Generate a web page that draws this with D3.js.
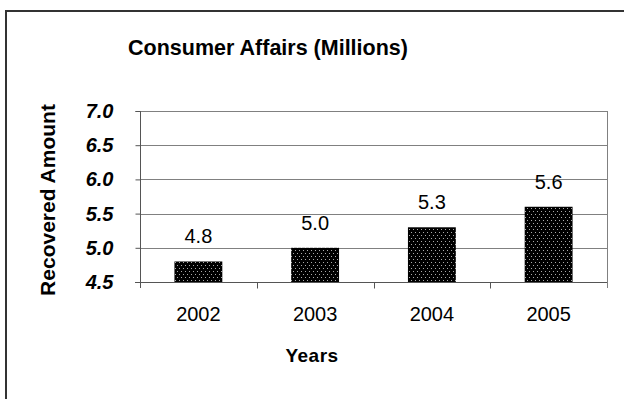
<!DOCTYPE html>
<html><head><meta charset="utf-8">
<script src="https://cdn.jsdelivr.net/npm/d3@7"></script>
<style>body{margin:0;background:#fff}svg{display:block}text{font-family:"Liberation Sans",Arial,sans-serif}</style>
</head><body><svg id="c" width="624" height="399"></svg>
<script>
const categories = ["2002","2003","2004","2005"];
const values = [4.8, 5.0, 5.3, 5.6];
const valueLabels = ["4.8","5.0","5.3","5.6"];
const yTicks = [4.5, 5.0, 5.5, 6.0, 6.5, 7.0];

const svg = d3.select("#c");
const m = {left:140, right:607, top:111, bottom:282};

// outer frame
svg.append("path").attr("d","M6,399 L6,11 L624,11").attr("fill","none").attr("stroke","#333").attr("stroke-width",2);

const defs = svg.append("defs");
const pat = defs.append("pattern").attr("id","dots").attr("patternUnits","userSpaceOnUse").attr("width",4).attr("height",6);
pat.append("rect").attr("width",4).attr("height",6).attr("fill","#000");
pat.append("rect").attr("x",1).attr("y",1).attr("width",1).attr("height",1).attr("fill","#aaa");
pat.append("rect").attr("x",3).attr("y",4).attr("width",1).attr("height",1).attr("fill","#aaa");

const x = d3.scaleBand().domain(categories).range([m.left, m.right]).paddingInner(0.59).paddingOuter(0.295);
const xb = d3.scaleBand().domain(categories).range([m.left, m.right]);
const y = d3.scaleLinear().domain([4.5, 7.0]).range([m.bottom, m.top]);

// gridlines
svg.append("g").selectAll("line").data(yTicks.filter(d=>d>4.5)).join("line")
  .attr("x1", m.left).attr("x2", m.right).attr("y1", d=>Math.round(y(d))+0.5).attr("y2", d=>Math.round(y(d))+0.5)
  .attr("stroke","#808080").attr("stroke-width",1);
// right border of plot
svg.append("line").attr("x1",m.right+0.5).attr("x2",m.right+0.5).attr("y1",m.top).attr("y2",m.bottom+6).attr("stroke","#808080");

// bars
svg.append("g").selectAll("rect").data(values).join("rect")
  .attr("x",(d,i)=>x(categories[i])).attr("width",x.bandwidth())
  .attr("y",d=>y(d)).attr("height",d=>y(4.5)-y(d))
  .attr("fill","url(#dots)");

// y axis
const yAxis = d3.axisLeft(y).tickValues(yTicks).tickSize(5).tickPadding(22).tickFormat(d3.format(".1f"));
const gy = svg.append("g").attr("transform",`translate(${m.left+0.5},0)`).call(yAxis);
gy.select(".domain").attr("stroke","#555").attr("d",`M-5,${m.top+0.5}H0V${m.bottom+6}`);
gy.selectAll(".tick line").attr("stroke","#555");
gy.selectAll(".tick text").attr("font-size",20).attr("font-weight","bold").attr("font-style","italic").attr("fill","#000")
  .attr("font-family","'Liberation Sans',Arial,sans-serif");

// x axis
const gx = svg.append("g").attr("transform",`translate(0,${m.bottom+0.5})`);
gx.append("line").attr("x1",m.left-5).attr("x2",m.right).attr("stroke","#555");
gx.selectAll("line.t").data(categories.slice(1)).join("line").attr("class","t")
  .attr("x1",d=>Math.round(xb(d))+0.5).attr("x2",d=>Math.round(xb(d))+0.5).attr("y1",0).attr("y2",6).attr("stroke","#555");
gx.selectAll("text").data(categories).join("text")
  .attr("x",d=>xb(d)+xb.bandwidth()/2).attr("y",38).attr("text-anchor","middle")
  .attr("font-size",20).attr("fill","#000").text(d=>d);

// value labels
svg.append("g").selectAll("text").data(values).join("text")
  .attr("x",(d,i)=>x(categories[i])+x.bandwidth()/2).attr("y",d=>y(d)-18)
  .attr("text-anchor","middle").attr("font-size",20).attr("fill","#000").text((d,i)=>valueLabels[i]);

// titles
svg.append("text").attr("x",268).attr("y",55).attr("text-anchor","middle").attr("font-size",21.5).attr("font-weight","bold").text("Consumer Affairs (Millions)");
svg.append("text").attr("x",312).attr("y",362).attr("text-anchor","middle").attr("font-size",19).attr("font-weight","bold").attr("letter-spacing",0.5).text("Years");
svg.append("text").attr("transform",`translate(55,200) rotate(-90)`).attr("text-anchor","middle").attr("font-size",21).attr("font-weight","bold").text("Recovered Amount");
</script></body></html>
